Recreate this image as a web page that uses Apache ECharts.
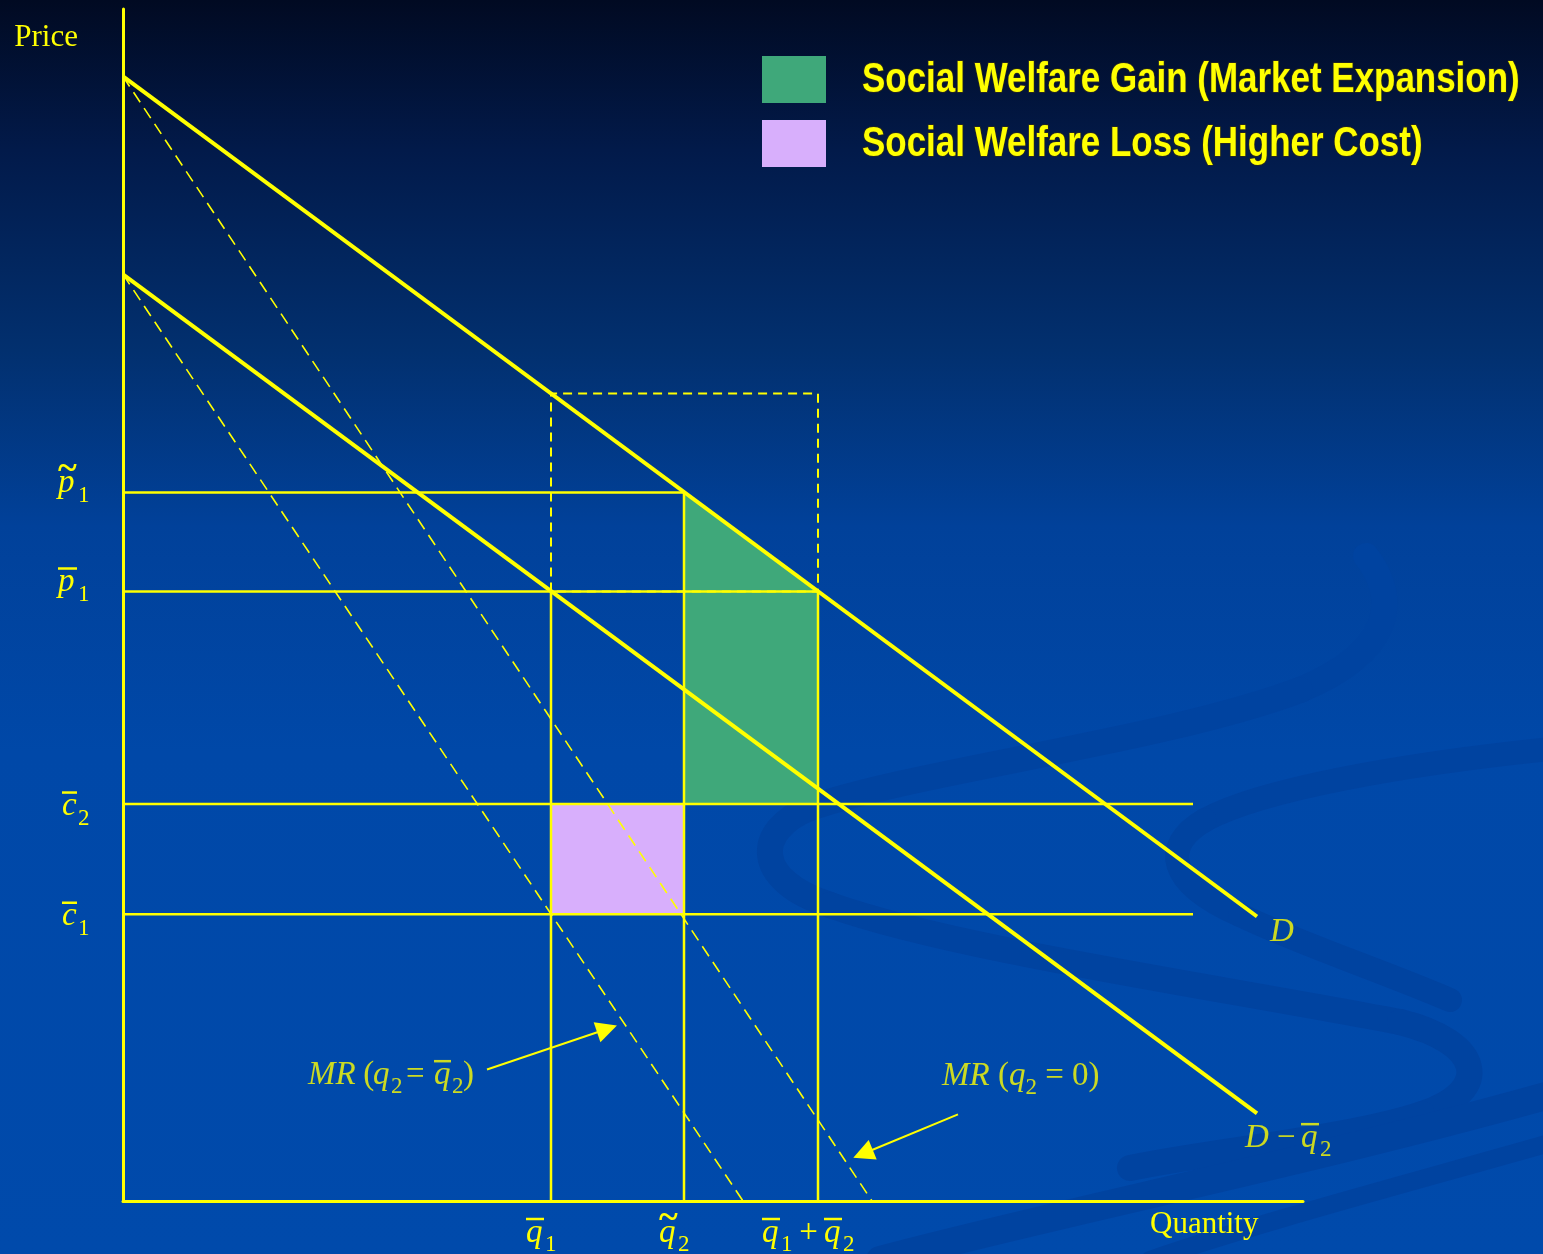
<!DOCTYPE html>
<html>
<head>
<meta charset="utf-8">
<script src="https://cdn.jsdelivr.net/npm/echarts@6/dist/echarts.min.js"></script>
<style>
  html, body { margin: 0; padding: 0; background: #0049aa; }
  #chart { width: 1543px; height: 1254px; }
</style>
</head>
<body>
<div id="chart"></div>
<script>
// ---- Market quantities (horizontal) and price / cost levels (vertical) ----
const quantityTicks = [42.8, 56.1, 69.5];          // q̄1, q̃2, q̄1 + q̄2
const priceTicks = [25.5, 35.3, 54.2, 63.0];        // c̄1, c̄2, p̄1, p̃1
const [qBar1, qTilde2, qSum] = quantityTicks;
const [cBar1, cBar2, pBar1, pTilde1] = priceTicks;

// Demand, residual demand and the two marginal revenue curves
const demand = [[0, 100], [113.4, 25.3]];
const residualDemand = [[0, 82.4], [113.4, 7.8]];
const mrNoRival = [[0, 100], [74.9, 0]];
const mrWithRival = [[0, 82.4], [62.0, 0]];
const costLineEnd = 107.0;
const demandAtQBar1 = 71.8;

// Welfare areas
const gainAreas = [
  [[qTilde2, pTilde1], [qSum, pBar1], [qTilde2, pBar1]],
  [[qTilde2, pBar1], [qSum, pBar1], [qSum, cBar2], [qTilde2, cBar2]]
];
const lossAreas = [
  [[qBar1, cBar2], [qTilde2, cBar2], [qTilde2, cBar1], [qBar1, cBar1]]
];

// Callout arrows and note anchors
const arrowLinks = [
  [[36.4, 11.7], [48.4, 15.3]],
  [[83.5, 7.7], [74.0, 4.2]]
];
const noteAnchors = [[18.5, 12.7], [81.9, 12.1], [114.7, 24.9], [112.2, 7.1]];

// Legend entries
const legendNames = ['Social Welfare Gain (Market Expansion)', 'Social Welfare Loss (Higher Cost)'];
const legendColors = ['#3fa87a', '#d8affc'];

// Tick label text: letter, subscript, accent
const quantityTickText = [
  [{k: 'it', t: 'q', w: 19, acc: 'bar'}, {k: 'sub', t: '1', w: 10}],
  [{k: 'it', t: 'q', w: 19, acc: 'tilde'}, {k: 'sub', t: '2', w: 10}],
  [{k: 'it', t: 'q', w: 19, acc: 'bar'}, {k: 'sub', t: '1', w: 10}, {k: 'rm', t: ' +', w: 33},
   {k: 'it', t: 'q', w: 19, acc: 'bar'}, {k: 'sub', t: '2', w: 10}]
];
const priceTickText = [
  [{k: 'it', t: 'c', w: 16, acc: 'bar'}, {k: 'sub', t: '1', w: 10}],
  [{k: 'it', t: 'c', w: 16, acc: 'bar'}, {k: 'sub', t: '2', w: 10}],
  [{k: 'it', t: 'p', w: 20, acc: 'bar'}, {k: 'sub', t: '1', w: 10}],
  [{k: 'it', t: 'p', w: 20, acc: 'tilde'}, {k: 'sub', t: '1', w: 10}]
];
const noteText = [
  [{k: 'it', t: 'MR', w: 47}, {k: 'rm', t: ' (', w: 18}, {k: 'it', t: 'q', w: 18}, {k: 'sub', t: '2', w: 15},
   {k: 'rm', t: '=', w: 28}, {k: 'it', t: 'q', w: 18, acc: 'bar'}, {k: 'sub', t: '2', w: 11}, {k: 'rm', t: ')'}],
  [{k: 'it', t: 'MR'}, {k: 'rm', t: ' ('}, {k: 'it', t: 'q'}, {k: 'sub', t: '2'}, {k: 'rm', t: ' = 0)'}],
  [{k: 'it', t: 'D'}],
  [{k: 'it', t: 'D', w: 32}, {k: 'rm', t: '\u2212', w: 24}, {k: 'it', t: 'q', w: 19, acc: 'bar'}, {k: 'sub', t: '2', w: 10}]
];

// ---- Rich text helpers for math-style labels ----
const YEL = '#ffff00';
const SERIF = '"Liberation Serif", "Times New Roman", serif';
const RICH = {};
function defStyle(name, def) { if (!RICH[name]) RICH[name] = def; return name; }
function glyphStyle(p) {
  const name = p.k + (p.w || 'n');
  const def = p.k === 'sub'
    ? {fontFamily: SERIF, fontSize: 23, color: YEL, height: 46, lineHeight: 46, verticalAlign: 'top', align: 'left'}
    : {fontFamily: SERIF, fontStyle: p.k === 'it' ? 'italic' : 'normal', fontSize: 33, color: YEL,
       height: 22, lineHeight: 22, verticalAlign: 'top', align: 'left'};
  if (p.w) def.width = p.w;
  return defStyle(name, def);
}
function accentStyle(acc, w) {
  if (acc === 'bar') return defStyle('bar' + w, {width: w - 1, height: 2.5, lineHeight: 6, backgroundColor: YEL, align: 'left'});
  if (acc === 'tilde') return defStyle('tl' + w, {fontFamily: SERIF, fontSize: 36, fontWeight: 'bold', color: YEL, width: w, height: 6, lineHeight: 6, align: 'left'});
  return defStyle('gap' + w, {width: w, height: 6, lineHeight: 6, align: 'left'});
}
function buildMath(parts, lead) {
  const hasAcc = parts.some(p => p.acc);
  let top = '', main = '';
  parts.forEach(p => {
    main += '{' + glyphStyle(p) + '|' + p.t + '}';
    if (hasAcc) {
      const st = accentStyle(p.acc, p.w);
      top += '{' + st + '|' + (p.acc === 'tilde' ? '~' : '') + '}';
      if (p.acc === 'bar') top += '{' + defStyle('gap1', {width: 1, height: 6, lineHeight: 6, align: 'left'}) + '|}';
    }
  });
  let s = hasAcc ? top + '\n' + main : main;
  if (lead) s = '{' + defStyle('lead' + lead, {width: 1, height: lead, lineHeight: lead, align: 'left'}) + '|}\n' + s;
  return s;
}
const leadByLetter = {c: 23, p: 0};
const quantityLabelStr = quantityTickText.map(parts => buildMath(parts));
const priceLabelStr = priceTickText.map(parts => buildMath(parts, leadByLetter[parts[0].t]));
const noteStr = noteText.map(parts => buildMath(parts));

function pickLabel(list, ticks, v) {
  const i = ticks.findIndex(t => Math.abs(t - v) < 1e-6);
  return i < 0 ? '' : list[i];
}

// ---- Series builders ----
function seg(points, width, dash, z) {
  return {
    type: 'line', data: points, symbol: 'none', silent: true, z: z || 3,
    lineStyle: {color: YEL, width: width, type: dash || 'solid', cap: 'butt'}
  };
}
function areaSeries(name, polys, color, edge) {
  return {
    type: 'custom', name: name, coordinateSystem: 'cartesian2d', silent: true, z: 1,
    itemStyle: {color: color},
    data: polys.map((poly, i) => [poly[0][0], poly[0][1], i]),
    renderItem: (params, api) => ({
      type: 'polygon',
      shape: {points: polys[api.value(2)].map(pt => api.coord(pt))},
      style: {fill: color, stroke: edge || null, lineWidth: edge ? 1.2 : 0}
    })
  };
}

// Decorative background ribbons (cubic segments in page pixels)
const ribbonStrokes = [
  {w: 26, segs: [
    [1366, 556, 1400, 600, 1392, 652, 1300, 690],
    [1300, 690, 1160, 742, 920, 770, 810, 808],
    [810, 808, 755, 830, 752, 880, 830, 905],
    [830, 905, 950, 948, 1200, 984, 1400, 1022],
    [1400, 1022, 1482, 1042, 1494, 1090, 1422, 1114],
    [1422, 1114, 1350, 1138, 1220, 1150, 1130, 1168]]},
  {w: 24, segs: [
    [1560, 748, 1400, 764, 1260, 790, 1205, 820],
    [1205, 820, 1160, 846, 1168, 884, 1240, 915],
    [1240, 915, 1300, 944, 1380, 970, 1450, 1000]]},
  {w: 28, segs: [[1560, 1092, 1320, 1160, 1060, 1212, 880, 1260]]},
  {w: 18, segs: [[1560, 1140, 1420, 1180, 1260, 1222, 1150, 1260]]}
];
const ribbonGraphics = [];
ribbonStrokes.forEach(r => r.segs.forEach(s => ribbonGraphics.push({
  type: 'bezierCurve', z: 0, silent: true,
  shape: {x1: s[0], y1: s[1], cpx1: s[2], cpy1: s[3], cpx2: s[4], cpy2: s[5], x2: s[6], y2: s[7]},
  style: {fill: null, stroke: '#0043a0', lineWidth: r.w, lineCap: 'round'}
})));

// Legend captions drawn in a narrow bold face
const legendCaptions = legendNames.map((name, i) => ({
  type: 'text', z: 10, silent: true, x: 862, y: 80 + i * 64, scaleX: 0.832,
  style: {
    text: name, x: 0, y: 0, align: 'left', verticalAlign: 'middle',
    font: 'bold 42px "Liberation Sans", Arial, sans-serif',
    fill: YEL, stroke: 'rgba(40,40,30,0.85)', lineWidth: 2
  }
}));

const option = {
  animation: false,
  backgroundColor: {
    type: 'linear', x: 0, y: 0, x2: 0, y2: 1,
    colorStops: [
      {offset: 0, color: '#010a22'},
      {offset: 0.12, color: '#021a4a'},
      {offset: 0.28, color: '#02306f'},
      {offset: 0.42, color: '#01419a'},
      {offset: 0.6, color: '#0048a8'},
      {offset: 1, color: '#004aab'}
    ]
  },
  graphic: ribbonGraphics.concat(legendCaptions),
  grid: {left: 123, top: 9, width: 1180, height: 1192, containLabel: false, outerBoundsMode: 'none'},
  legend: {
    orient: 'vertical', left: 762, top: 56, padding: 0,
    itemWidth: 64, itemHeight: 47, itemGap: 17, selectedMode: false,
    data: legendNames.map((name, i) => ({name: name, icon: 'rect', itemStyle: {color: legendColors[i]}})),
    formatter: () => '',
    textStyle: {color: YEL, fontSize: 12}
  },
  xAxis: {
    type: 'value', min: 0, max: 118,
    axisLine: {show: true, onZero: false, lineStyle: {color: YEL, width: 3}},
    axisTick: {show: false}, splitLine: {show: false},
    axisLabel: {
      customValues: quantityTicks, margin: 15, padding: [0, 21, 0, 0], color: YEL,
      formatter: v => pickLabel(quantityLabelStr, quantityTicks, v), rich: RICH
    },
    name: '{n|Quantity}', nameLocation: 'end', nameGap: -153,
    nameTextStyle: {
      align: 'left', verticalAlign: 'top',
      rich: {n: {color: YEL, fontFamily: SERIF, fontSize: 31, lineHeight: 31, padding: [16, 0, 0, 0]}}
    }
  },
  yAxis: {
    type: 'value', min: 0, max: 106,
    axisLine: {show: true, onZero: false, lineStyle: {color: YEL, width: 3}},
    axisTick: {show: false}, splitLine: {show: false},
    axisLabel: {
      customValues: priceTicks, margin: 35, color: YEL,
      formatter: v => pickLabel(priceLabelStr, priceTicks, v), rich: RICH
    },
    name: 'Price', nameLocation: 'end', nameGap: -29,
    nameTextStyle: {color: YEL, fontFamily: SERIF, fontSize: 31, align: 'right', verticalAlign: 'middle', padding: [0, 45, 0, 0]}
  },
  series: [
    areaSeries(legendNames[0], gainAreas, legendColors[0], 'rgba(255,255,255,0.85)'),
    areaSeries(legendNames[1], lossAreas, legendColors[1]),
    // price and cost guides
    seg([[0, pTilde1], [qTilde2, pTilde1]], 2.5),
    seg([[0, pBar1], [qSum, pBar1]], 2.5),
    seg([[0, cBar2], [costLineEnd, cBar2]], 2.5),
    seg([[0, cBar1], [costLineEnd, cBar1]], 2.5),
    // quantity guides
    seg([[qBar1, 0], [qBar1, pBar1]], 2.5),
    seg([[qTilde2, 0], [qTilde2, pTilde1]], 2.5),
    seg([[qSum, 0], [qSum, pBar1]], 2.5),
    // dashed box above p̄1
    seg([[qBar1, pBar1], [qBar1, demandAtQBar1], [qSum, demandAtQBar1], [qSum, pBar1], [qBar1, pBar1]], 2, [9, 6]),
    // marginal revenue curves
    seg(mrNoRival, 1.6, [12, 7]),
    seg(mrWithRival, 1.6, [12, 7]),
    // demand curves
    seg(demand, 4, null, 5),
    seg(residualDemand, 4, null, 5),
    {
      type: 'lines', coordinateSystem: 'cartesian2d', silent: true, z: 6,
      symbol: ['none', 'triangle'], symbolSize: 21,
      lineStyle: {color: YEL, width: 2, opacity: 1},
      data: arrowLinks.map(c => ({coords: c}))
    },
    {
      type: 'scatter', symbolSize: 0, silent: true, z: 7, clip: false,
      data: noteAnchors.map((p, i) => [p[0], p[1], i]),
      label: {
        show: true, position: [0, 0], align: 'left', verticalAlign: 'top', color: YEL,
        formatter: params => noteStr[params.dataIndex], rich: RICH
      }
    }
  ]
};

const chart = echarts.init(document.getElementById('chart'));
chart.setOption(option);
</script>
</body>
</html>
